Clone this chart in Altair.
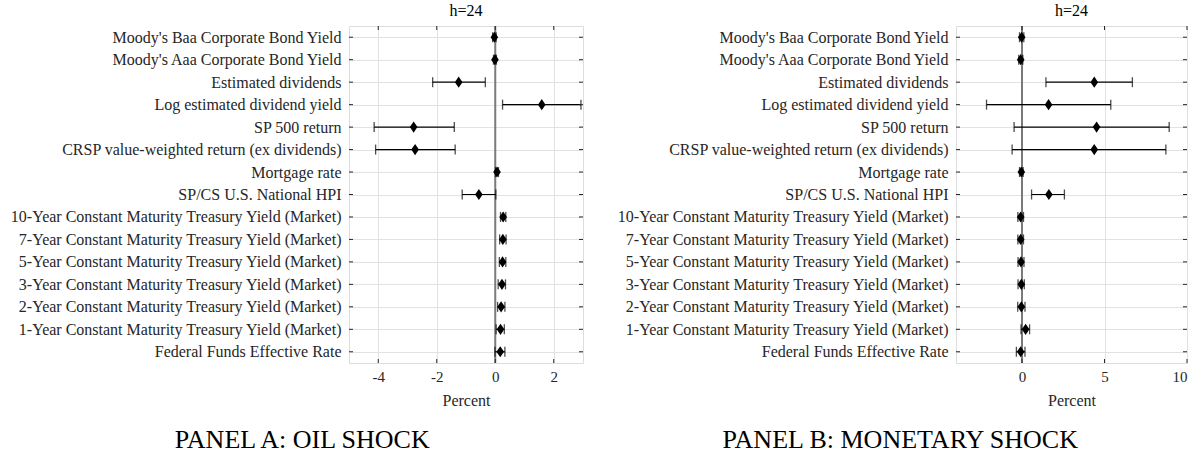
import altair as alt
import pandas as pd

labels = [
    "Moody's Baa Corporate Bond Yield",
    "Moody's Aaa Corporate Bond Yield",
    "Estimated dividends",
    "Log estimated dividend yield",
    "SP 500 return",
    "CRSP value-weighted return (ex dividends)",
    "Mortgage rate",
    "SP/CS U.S. National HPI",
    "10-Year Constant Maturity Treasury Yield (Market)",
    "7-Year Constant Maturity Treasury Yield (Market)",
    "5-Year Constant Maturity Treasury Yield (Market)",
    "3-Year Constant Maturity Treasury Yield (Market)",
    "2-Year Constant Maturity Treasury Yield (Market)",
    "1-Year Constant Maturity Treasury Yield (Market)",
    "Federal Funds Effective Rate",
]

oil_est = [-0.03, -0.01, -1.25, 1.59, -2.79, -2.74, 0.06, -0.56, 0.27, 0.26, 0.25, 0.23, 0.20, 0.18, 0.17]
oil_lo = [-0.09, -0.06, -2.14, 0.25, -4.14, -4.09, 0.01, -1.13, 0.18, 0.15, 0.14, 0.10, 0.08, 0.03, -0.01]
oil_hi = [0.03, 0.04, -0.34, 2.93, -1.40, -1.37, 0.11, 0.02, 0.36, 0.37, 0.36, 0.35, 0.33, 0.31, 0.33]

mon_est = [-0.02, -0.08, 4.38, 1.61, 4.52, 4.38, -0.04, 1.63, -0.08, -0.08, -0.06, -0.04, -0.04, 0.22, -0.08]
mon_lo = [-0.15, -0.20, 1.45, -2.15, -0.48, -0.60, -0.15, 0.58, -0.25, -0.25, -0.24, -0.24, -0.26, -0.06, -0.34]
mon_hi = [0.11, 0.05, 6.69, 5.38, 8.92, 8.72, 0.07, 2.57, 0.09, 0.09, 0.12, 0.14, 0.18, 0.46, 0.18]

oil_domain = [-5, 3]
oil_ticks = [-4, -2, 0, 2]
mon_domain = [-4, 10]
mon_ticks = [0, 5, 10]

panel_titles = ["h=24", "h=24"]
captions = ["PANEL A: OIL SHOCK", "PANEL B: MONETARY SHOCK"]

FONT = "Liberation Serif"
TXT = "#262626"
GRID = "#e2e2e2"
DIAMOND = "M0,-1L0.68,0L0,1L-0.68,0Z"


def panel(est, lo, hi, domain, ticks, W, H, extent, title, caption, cap_dx):
    df = pd.DataFrame({"label": labels, "est": est, "lo": lo, "hi": hi})
    tdf = pd.DataFrame({"t": ticks})
    ysc = alt.Scale(type="point", padding=0.5, domain=labels)
    xsc = alt.Scale(domain=domain, nice=False, zero=False)

    yax = alt.Axis(title=None, grid=True, gridColor=GRID, gridWidth=1, ticks=False,
                   domain=False, labelFont=FONT, labelFontSize=16, labelColor=TXT,
                   labelPadding=8, labelLimit=400, minExtent=extent, maxExtent=extent)
    xax = alt.Axis(values=ticks, title="Percent", grid=True, gridColor=GRID, ticks=False,
                   domain=False, labelFont=FONT, labelFontSize=15, labelColor=TXT,
                   labelPadding=6, labelExpr="'' + datum.value",
                   titleFont=FONT, titleFontSize=16, titleFontWeight="normal",
                   titleColor=TXT, titlePadding=8)

    def X(f):
        return alt.X(f, scale=xsc, axis=xax, title="Percent")

    def Y():
        return alt.Y("label:N", scale=ysc, sort=labels, axis=yax, title=None)

    base = alt.Chart(df)

    zero = alt.Chart(pd.DataFrame({"z": [0]})).mark_rule(color="#7a7a7a", strokeWidth=2).encode(
        x=X("z:Q")
    )
    bars = base.mark_rule(color="black", strokeWidth=1.2).encode(
        x=X("lo:Q"), x2="hi:Q", y=Y()
    )
    cap_lo = base.mark_tick(color="black", thickness=1.3, size=10).encode(x=X("lo:Q"), y=Y())
    cap_hi = base.mark_tick(color="black", thickness=1.3, size=10).encode(x=X("hi:Q"), y=Y())
    pts = base.mark_point(shape=DIAMOND, filled=True, color="black", size=125, opacity=1).encode(
        x=X("est:Q"), y=Y())

    lt = base.mark_rule(color=TXT, strokeWidth=1).encode(y=Y(), x=alt.value(0), x2=alt.value(4))
    rt = base.mark_rule(color=TXT, strokeWidth=1).encode(y=Y(), x=alt.value(W - 4), x2=alt.value(W))
    bt = alt.Chart(tdf).mark_rule(color=TXT, strokeWidth=1).encode(
        x=X("t:Q"), y=alt.value(H - 4), y2=alt.value(H))
    tt = alt.Chart(tdf).mark_rule(color=TXT, strokeWidth=1).encode(
        x=X("t:Q"), y=alt.value(0), y2=alt.value(4))

    layer = alt.layer(zero, bars, cap_lo, cap_hi, pts, lt, rt, bt, tt).properties(
        width=W, height=H,
        title=alt.TitleParams(text=title, font=FONT, fontSize=16, fontWeight="normal",
                              color="black", anchor="middle", offset=6),
    )
    return alt.vconcat(layer).properties(
        title=alt.TitleParams(text=caption, orient="bottom", anchor="middle", frame="bounds",
                              font=FONT, fontSize=26, fontWeight="normal", color="black",
                              offset=18, dx=cap_dx)
    )


pA = panel(oil_est, oil_lo, oil_hi, oil_domain, oil_ticks, 234, 337, 348,
           panel_titles[0], captions[0], 10)
pB = panel(mon_est, mon_lo, mon_hi, mon_domain, mon_ticks, 231, 337, 361,
           panel_titles[1], captions[1], 9)

chart = alt.hconcat(pA, pB, spacing=10).properties(
    padding={"left": 0, "top": 2, "right": 0, "bottom": 0}
).configure_view(stroke="#262626", strokeWidth=1).configure(background="white")

chart.save("out.html", embed_options={"renderer": "svg", "actions": False})
